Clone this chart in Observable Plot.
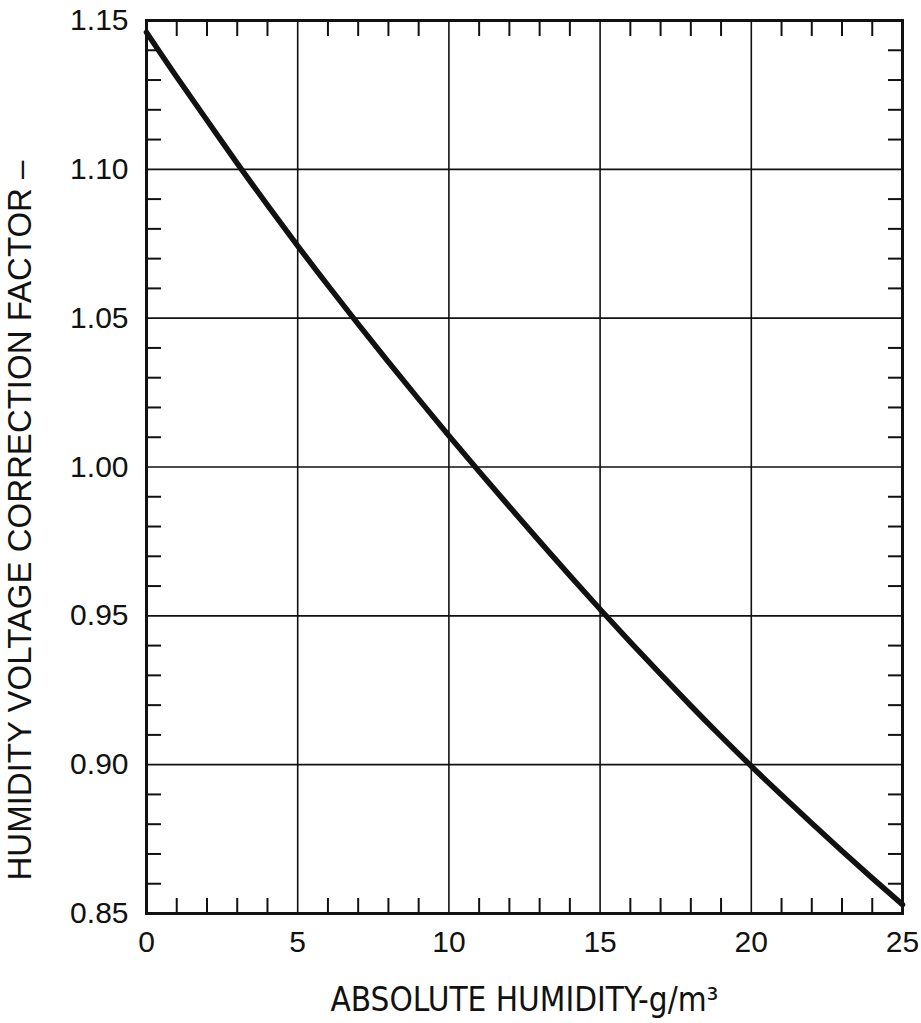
<!DOCTYPE html>
<html>
<head>
<meta charset="utf-8">
<script src="https://cdn.jsdelivr.net/npm/d3@7"></script>
<script src="https://cdn.jsdelivr.net/npm/@observablehq/plot@0.6"></script>
<style>
  html, body { margin: 0; padding: 0; background: #fff; }
</style>
</head>
<body>
<div id="chart"></div>
<script>
// Absolute humidity (g/m^3)
const humidity = [0,1,2,3,4,5,6,7,8,9,10,11,12,13,14,15,16,17,18,19,20,21,22,23,24,25];
// Humidity voltage correction factor
const factor = [1.146,1.131,1.1165,1.102,1.088,1.0743,1.061,1.048,1.0353,1.0228,1.0105,0.9985,0.9867,0.9750,0.9635,0.9522,0.9412,0.9304,0.9198,0.9095,0.8995,0.8898,0.8803,0.8710,0.8619,0.8530];

const xTicks = [0,5,10,15,20,25];
const yTicks = [0.85,0.90,0.95,1.00,1.05,1.10,1.15];
const xMinor = [1,2,3,4,6,7,8,9,11,12,13,14,16,17,18,19,21,22,23,24];
const yMinor = [0.86,0.87,0.88,0.89,0.91,0.92,0.93,0.94,0.96,0.97,0.98,0.99,1.01,1.02,1.03,1.04,1.06,1.07,1.08,1.09,1.11,1.12,1.13,1.14];

const xTitle = "ABSOLUTE HUMIDITY-g/m³";
const yTitle = "HUMIDITY VOLTAGE CORRECTION FACTOR –";

const data = humidity.map((h, i) => ({h, f: factor[i]}));

const numFont = "'Liberation Sans', Arial, sans-serif";
const narrowFont = "'Liberation Sans Narrow', 'DejaVu Sans Condensed', sans-serif";

const chart = Plot.plot({
  width: 921,
  height: 1023,
  marginLeft: 146,
  marginRight: 19,
  marginTop: 20,
  marginBottom: 110,
  style: {background: "#fff", color: "#111", fontFamily: numFont},
  x: {domain: [0, 25]},
  y: {domain: [0.85, 1.15]},
  marks: [
    Plot.gridX(xTicks, {stroke: "#111", strokeOpacity: 1, strokeWidth: 1.6}),
    Plot.gridY(yTicks, {stroke: "#111", strokeOpacity: 1, strokeWidth: 1.6}),
    // inward minor ticks
    Plot.axisX(xMinor, {anchor: "bottom", tickSize: -15, tickFormat: () => "", strokeWidth: 2, label: null}),
    Plot.axisX(xMinor, {anchor: "top", tickSize: -15, tickFormat: () => "", strokeWidth: 2, label: null}),
    Plot.axisY(yMinor, {anchor: "left", tickSize: -15, tickFormat: () => "", strokeWidth: 2, label: null}),
    Plot.axisY(yMinor, {anchor: "right", tickSize: -15, tickFormat: () => "", strokeWidth: 2, label: null}),
    // labels
    Plot.axisX(xTicks, {anchor: "bottom", tickSize: 0, tickPadding: 17, fontSize: 30, tickFormat: d3.format("d"), label: null}),
    Plot.axisY(yTicks, {anchor: "left", tickSize: 0, tickPadding: 18, fontSize: 30, tickFormat: d3.format(".2f"), label: null}),
    Plot.frame({stroke: "#111", strokeWidth: 3}),
    Plot.line(data, {x: "h", y: "f", curve: "natural", stroke: "#111", strokeWidth: 5.5}),
    Plot.text([xTitle], {frameAnchor: "bottom", dy: 97, fontSize: 33, fontFamily: narrowFont, fill: "#111"}),
    Plot.text([yTitle], {frameAnchor: "bottom-left", rotate: -90, textAnchor: "start", dx: -116, dy: -33, fontSize: 33, fontFamily: numFont, fill: "#111"})
  ]
});
document.getElementById("chart").appendChild(chart);
</script>
</body>
</html>
